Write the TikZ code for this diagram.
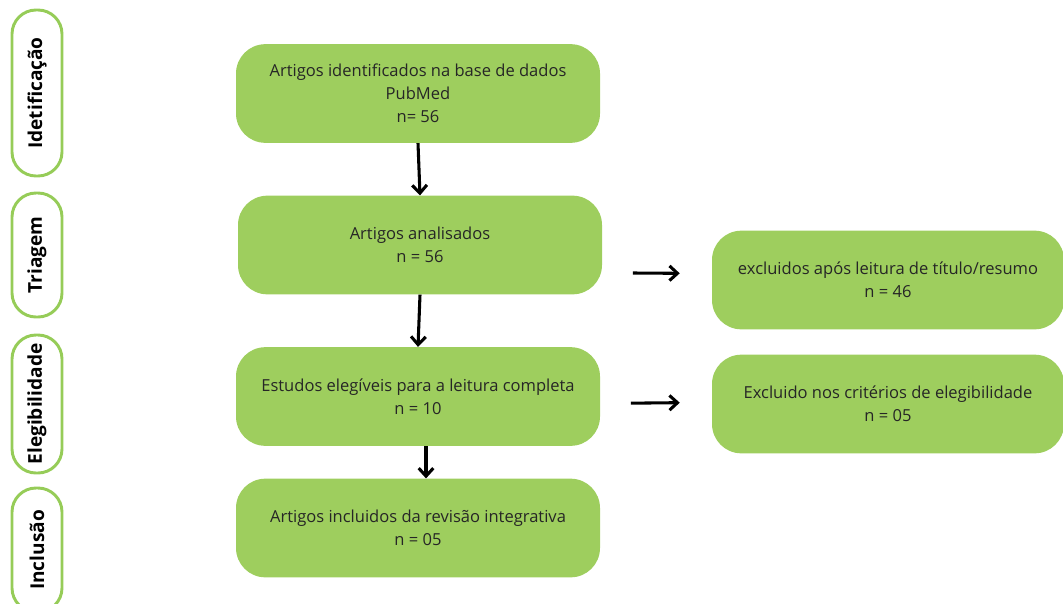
\documentclass[tikz,border=0pt]{standalone}
\usepackage{fontspec}
\setmainfont{Open Sans}
\usetikzlibrary{arrows.meta}
\definecolor{boxgreen}{RGB}{158,206,94}
\definecolor{pillgreen}{RGB}{150,204,88}
\tikzset{
    etapa/.style = {rounded corners=22pt, fill=boxgreen, text=black!85, align=center,
                    minimum width=273pt, minimum height=74pt, inner sep=0pt,
                    font=\fontsize{12.4}{17.3}\selectfont},
    exclusao/.style = {etapa, minimum width=264pt},
    fase/.style = {rounded corners=18pt, draw=pillgreen, line width=2.2pt, fill=white,
                   rotate=90, minimum height=37.5pt, inner sep=0pt,
                   font=\fontsize{14.3}{16}\selectfont\bfseries},
    seta/.style = {line width=2.3pt, -{Straight Barb[length=6pt,width=11pt]}}
}
\begin{document}
\begin{tikzpicture}[x=0.75pt, y=-0.75pt]
                        \useasboundingbox (0, 0) rectangle (1063, 603);
                        \clip (0, 0) rectangle (1063, 603);
                        % fases
                        \node [fase, minimum width=124.5pt] (idf) at (37, 93) {Idetificação};
                        \node [fase, minimum width=93pt] (tri) at (37, 255) {Triagem};
                        \node [fase, minimum width=103.5pt] (ele) at (37, 404) {Elegibilidade};
                        \node [fase, minimum width=93pt] (inc) at (37, 550) {Inclusão};
                        % caixas principais
                        \node [etapa] (ident) at (418, 93.5) {Artigos identificados na base de dados\\PubMed\\n= 56};
                        \node [etapa] (anal) at (420, 245) {Artigos analisados\\n = 56};
                        \node [etapa] (elig) at (418, 396.5) {Estudos elegíveis para a leitura completa\\n = 10};
                        \node [etapa] (incl) at (418, 528) {Artigos incluidos da revisão integrativa\\n = 05};
                        % exclusoes
                        \node [exclusao] (excl1) at (888, 280) {excluidos após leitura de título/resumo\\n = 46};
                        \node [exclusao] (excl2) at (888, 404) {Excluido nos critérios de elegibilidade\\n = 05};
                        % setas
                        \draw [seta] (ident.south) -- (anal.north);
                        \draw [seta] (anal.south) -- (elig.north);
                        \draw [seta] ([xshift=6pt]elig.south) -- ([xshift=6pt]incl.north);
                        \draw [seta] ([xshift=23pt, yshift=-21pt]anal.east) -- ([xshift=-24pt, yshift=5pt]excl1.west);
                        \draw [seta] ([xshift=23pt, yshift=-5pt]elig.east) -- ([xshift=-24pt, yshift=1pt]excl2.west);
                    \end{tikzpicture}
\end{document}
